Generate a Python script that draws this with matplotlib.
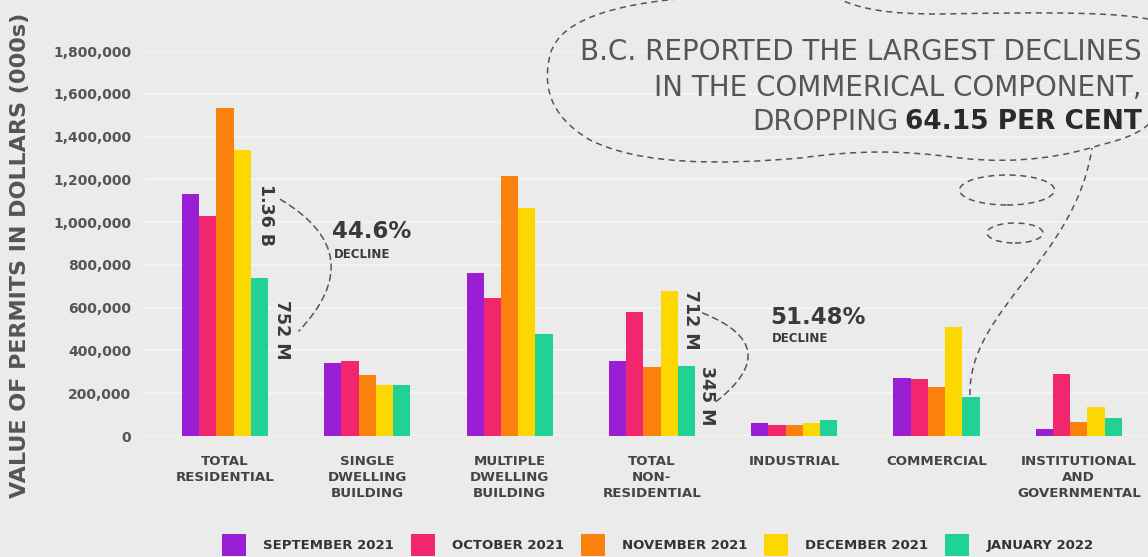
import matplotlib.pyplot as plt
import numpy as np
from matplotlib.patches import Patch, FancyArrowPatch, Ellipse, PathPatch
from matplotlib.path import Path

plt.rcParams['font.family'] = ['DejaVu Sans']

categories = ['TOTAL\nRESIDENTIAL', 'SINGLE\nDWELLING\nBUILDING', 'MULTIPLE\nDWELLING\nBUILDING',
              'TOTAL\nNON-\nRESIDENTIAL', 'INDUSTRIAL', 'COMMERCIAL', 'INSTITUTIONAL\nAND\nGOVERNMENTAL']
months = ['SEPTEMBER 2021', 'OCTOBER 2021', 'NOVEMBER 2021', 'DECEMBER 2021', 'JANUARY 2022']

# value of permits, thousands of dollars
sep_2021 = [1133000, 340000, 763000, 352000, 59000, 270000, 34000]
oct_2021 = [1028000, 352000, 645000, 580000, 52000, 265000, 291000]
nov_2021 = [1533000, 284000, 1216000, 324000, 52000, 228000, 65000]
dec_2021 = [1338000, 238000, 1068000, 676000, 62000, 511000, 137000]
jan_2022 = [740000, 238000, 477000, 326000, 74000, 184000, 85000]
series = [sep_2021, oct_2021, nov_2021, dec_2021, jan_2022]
colors = ['#9a1ed4', '#f2266f', '#fa810c', '#fcd800', '#20d293']

yticks = [0, 200000, 400000, 600000, 800000, 1000000, 1200000, 1400000, 1600000, 1800000]

W, H = 1148, 557
fig = plt.figure(figsize=(W / 100, H / 100), dpi=100)
fig.patch.set_facecolor('#ebebeb')

def P(px, py):
    # pixel position (y down) -> figure fraction
    return (px / W, 1 - py / H)

ax = fig.add_axes([145 / W, 1 - 436 / H, 1 - 145 / W, (436 - 51) / H])
ax.set_facecolor('#ebebeb')

x = np.arange(len(categories))
bw = 0.121
for i, vals in enumerate(series):
    ax.bar(x + (i - 2) * bw, vals, width=bw, color=colors[i], label=months[i], zorder=3)

ax.set_xlim(-0.562, 6.486)
ax.set_ylim(0, 1800000)
ax.set_yticks(yticks)
ax.set_yticklabels(['{:,}'.format(v) for v in yticks], fontsize=10, fontweight='bold', color='#555555')
ax.set_xticks(x)
ax.set_xticklabels(categories, fontsize=9.6, fontweight='bold', color='#444444', linespacing=1.3)
ax.tick_params(axis='both', length=0)
ax.tick_params(axis='y', pad=10)
ax.tick_params(axis='x', pad=14)
for s in ax.spines.values():
    s.set_visible(False)
ax.grid(axis='y', color='#f5f5f5', linewidth=1.2, zorder=0)
ax.set_axisbelow(True)

fig.text(*P(20, 255), 'VALUE OF PERMITS IN DOLLARS (000s)', rotation=90, ha='center', va='center',
         fontsize=16, color='#555555', fontweight='bold')

dark = '#3a3a3a'
dash = (0, (4, 3))

# total residential annotation
fig.text(*P(266, 215), '1.36 B', rotation=-90, ha='center', va='center', fontsize=12.5, fontweight='bold', color=dark)
fig.text(*P(282, 330), '752 M', rotation=-90, ha='center', va='center', fontsize=12.5, fontweight='bold', color=dark)
fig.add_artist(FancyArrowPatch(P(278, 198), P(297, 333), transform=fig.transFigure, arrowstyle='-',
                               connectionstyle='arc3,rad=-0.64', linestyle=dash, color='#555555', lw=1.1))
fig.text(*P(332, 232), '44.6%', ha='left', va='center', fontsize=16.5, fontweight='bold', color=dark)
fig.text(*P(334, 254), 'DECLINE', ha='left', va='center', fontsize=8.5, fontweight='bold', color=dark)

# total non-residential annotation
fig.text(*P(691, 320), '712 M', rotation=-90, ha='center', va='center', fontsize=12.5, fontweight='bold', color=dark)
fig.text(*P(707, 396), '345 M', rotation=-90, ha='center', va='center', fontsize=12.5, fontweight='bold', color=dark)
fig.add_artist(FancyArrowPatch(P(700, 312), P(713, 404), transform=fig.transFigure, arrowstyle='-',
                               connectionstyle='arc3,rad=-0.9', linestyle=dash, color='#555555', lw=1.1))
fig.text(*P(770, 318), '51.48%', ha='left', va='center', fontsize=16.5, fontweight='bold', color=dark)
fig.text(*P(772, 339), 'DECLINE', ha='left', va='center', fontsize=8.5, fontweight='bold', color=dark)

# thought bubble
def bez(points, codes):
    verts = [P(px, py) for px, py in points]
    return PathPatch(Path(verts, codes), transform=fig.transFigure, fill=False,
                     linestyle=dash, edgecolor='#555555', lw=1.1)

C = Path.CURVE4
bubble_pts = [(700, -3),
              (630, 2), (560, 15), (550, 55),
              (543, 85), (548, 115), (590, 140),
              (640, 165), (720, 165), (800, 158),
              (860, 150), (900, 150), (960, 158),
              (1020, 165), (1070, 155), (1100, 145),
              (1130, 138), (1145, 130), (1152, 120)]
fig.add_artist(bez(bubble_pts, [Path.MOVETO] + [C] * 18))
top_pts = [(835, -3), (860, 10), (890, 14), (940, 14), (1050, 12), (1120, 12), (1152, 20)]
fig.add_artist(bez(top_pts, [Path.MOVETO] + [C] * 6))
tail_pts = [(970, 395), (968, 310), (1075, 260), (1092, 148)]
fig.add_artist(bez(tail_pts, [Path.MOVETO] + [C] * 3))
for cx, cy, ew, eh in [(1007, 190, 95, 30), (1015, 233, 56, 20)]:
    fig.add_artist(Ellipse(P(cx, cy), ew / W, eh / H, transform=fig.transFigure, fill=False,
                           linestyle=dash, edgecolor='#555555', lw=1.1))

fig.text(*P(1142, 52), 'B.C. REPORTED THE LARGEST DECLINES', ha='right', va='center', fontsize=20, color='#555555')
fig.text(*P(1142, 88), 'IN THE COMMERICAL COMPONENT,', ha='right', va='center', fontsize=20, color='#555555')
bold_part = fig.text(*P(1142, 122), '64.15 PER CENT', ha='right', va='center', fontsize=19,
                     fontweight='bold', color='#2a2a2a')
r = fig.canvas.get_renderer()
bb = bold_part.get_window_extent(r)
fig.text(bb.x0 / W - 7 / W, 1 - 122 / H, 'DROPPING', ha='right', va='center', fontsize=20, color='#555555')

handles = [Patch(facecolor=c, label=m) for c, m in zip(colors, months)]
leg = fig.legend(handles=handles, loc='center', bbox_to_anchor=(0.573, 1 - 545 / H), ncol=5, frameon=False,
                 handlelength=1.8, handleheight=2.2, handletextpad=1.3, columnspacing=1.3,
                 prop={'size': 9.5, 'weight': 'bold'})
for t in leg.get_texts():
    t.set_color('#333333')

fig.savefig('out.png', dpi=100, facecolor=fig.get_facecolor())
